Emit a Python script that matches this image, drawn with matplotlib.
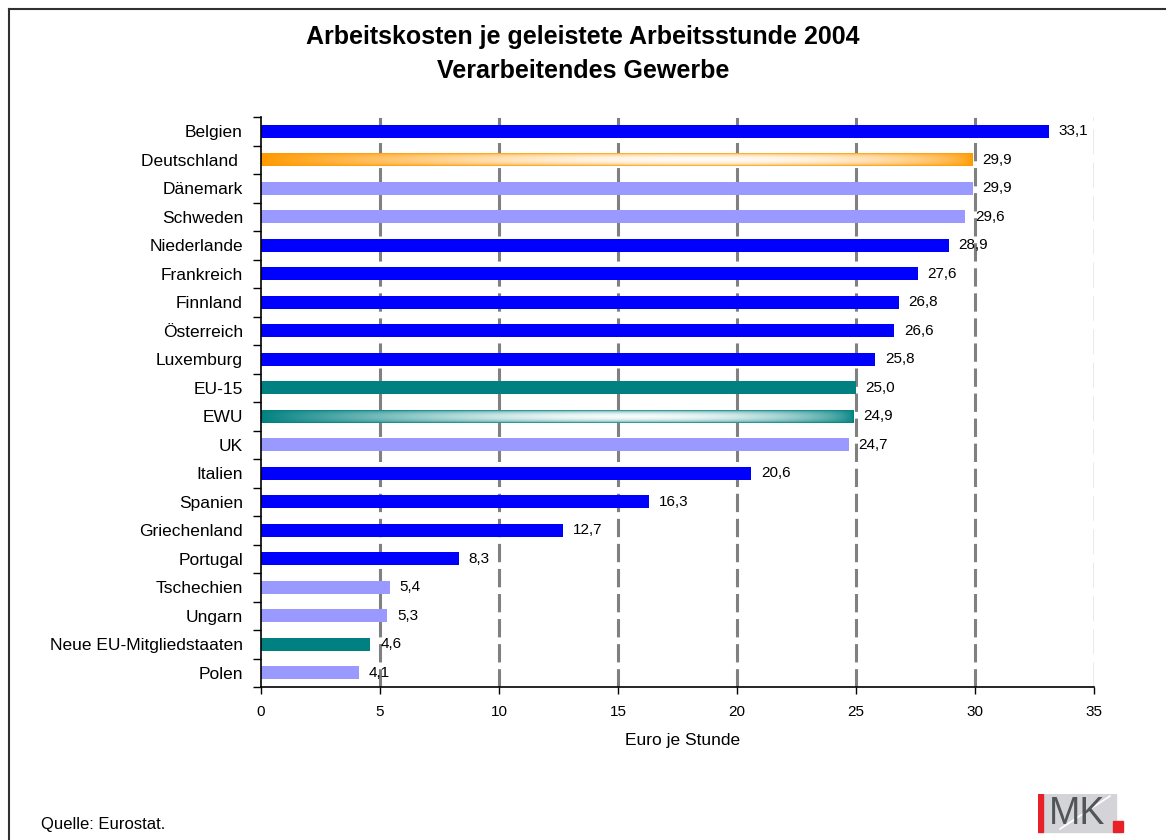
import numpy as np
import matplotlib.pyplot as plt
from matplotlib.patches import Rectangle
from matplotlib.lines import Line2D

plt.rcParams['font.family'] = ['Liberation Sans', 'DejaVu Sans']

# Daten
laender = ['Belgien', 'Deutschland ', 'Dänemark', 'Schweden', 'Niederlande', 'Frankreich',
           'Finnland', 'Österreich', 'Luxemburg', 'EU-15', 'EWU', 'UK', 'Italien', 'Spanien',
           'Griechenland', 'Portugal', 'Tschechien', 'Ungarn', 'Neue EU-Mitgliedstaaten', 'Polen']
werte = [33.1, 29.9, 29.9, 29.6, 28.9, 27.6, 26.8, 26.6, 25.8, 25.0, 24.9, 24.7,
         20.6, 16.3, 12.7, 8.3, 5.4, 5.3, 4.6, 4.1]
gruppe = ['alt', 'de', 'nord', 'nord', 'alt', 'alt', 'alt', 'alt', 'alt', 'eu', 'ewu', 'nord',
          'alt', 'alt', 'alt', 'alt', 'nord', 'nord', 'eu', 'nord']
farben = {'alt': '#0000ff', 'nord': '#9999ff', 'eu': '#008080', 'de': '#ff9900', 'ewu': '#008080'}
x_ticks = [0, 5, 10, 15, 20, 25, 30, 35]

fig = plt.figure(figsize=(11.66, 8.4), dpi=100)
ax = fig.add_axes([261 / 1166, 1 - 687 / 840, 833 / 1166, 570 / 840])

n = len(laender)
hoehe = 0.44


def verlauf_balken(ax, wert, y, farbe):
    # horizontaler Farbverlauf: Farbe an den Enden, weiss in der Mitte
    basis = np.array(plt.matplotlib.colors.to_rgb(farbe))
    t = np.linspace(0, 1, 400)
    s = np.linspace(0, 1, 24)
    w = np.sin(np.pi * t ** 1.45) ** 0.6
    v = np.clip(np.sin(np.pi * s), 0, 1) ** 0.4
    a = 0.97 * np.outer(v, w)[..., None]
    img = basis * (1 - a) + a
    ax.imshow(img, extent=(0, wert, y + hoehe / 2, y - hoehe / 2), aspect='auto',
              interpolation='bilinear', zorder=2)


for i, (land, wert, g) in enumerate(zip(laender, werte, gruppe)):
    if g in ('de', 'ewu'):
        verlauf_balken(ax, wert, i, farben[g])
    else:
        ax.barh(i, wert, height=hoehe, color=farben[g], zorder=2)
    ax.annotate(f'{wert:.1f}'.replace('.', ','), (wert, i), xytext=(7, 0),
                textcoords='offset points', va='center', ha='left', fontsize=11, zorder=4)

# Gitternetz
for xv in x_ticks[1:-1]:
    ax.axvline(xv, color='#808080', lw=2.2, dashes=(6, 2.2), zorder=1)
ax.axvline(35, color='#909090', lw=1.0, dashes=(18, 6), zorder=1)

ax.set_xlim(0, 35)
ax.set_ylim(n - 0.5, -0.5)
ax.set_xticks(x_ticks)
ax.set_xticklabels([str(x) for x in x_ticks], fontsize=11)
ax.set_yticks(range(n))
ax.set_yticklabels(laender, fontsize=12.5)
ax.set_yticks(np.arange(-0.5, n, 1), minor=True)
ax.tick_params(axis='y', which='major', length=0, pad=13)
ax.tick_params(axis='y', which='minor', length=6, direction='out', width=1)
ax.tick_params(axis='x', length=5, direction='out', width=1, pad=8)
for sp in ['top', 'right']:
    ax.spines[sp].set_visible(False)
ax.spines['left'].set_linewidth(1.2)
ax.spines['bottom'].set_linewidth(1.2)

# Titel und Beschriftung
fig.text(0.5, 1 - 37 / 840, 'Arbeitskosten je geleistete Arbeitsstunde 2004',
         ha='center', va='center', fontsize=18, fontweight='bold')
fig.text(0.5, 1 - 71 / 840, 'Verarbeitendes Gewerbe',
         ha='center', va='center', fontsize=18, fontweight='bold')
fig.text(683 / 1166, 1 - 741 / 840, 'Euro je Stunde', ha='center', va='center', fontsize=12.5)
fig.text(41 / 1166, 1 - 824 / 840, 'Quelle: Eurostat.', ha='left', va='center', fontsize=12)

# Rahmen
fig.add_artist(Line2D([9 / 1166, 1], [1 - 9 / 840, 1 - 9 / 840], transform=fig.transFigure,
                      color='#303030', lw=1.5))
fig.add_artist(Line2D([9 / 1166, 9 / 1166], [0, 1 - 9 / 840], transform=fig.transFigure,
                      color='#303030', lw=1.5))

# IMK Logo
logo = fig.add_axes([1038 / 1166, 0, 90 / 1166, 46 / 840])
logo.set_xlim(1038, 1128)
logo.set_ylim(841, 795)
logo.axis('off')
logo.add_patch(Rectangle((1038, 795), 78, 38, color='#d4d4d8'))
logo.plot([1060, 1110], [830, 797], color='white', lw=1.2)
logo.add_patch(Rectangle((1038, 795), 5, 38, color='#e8202a'))
logo.add_patch(Rectangle((1113, 822), 10, 11, color='#e8202a'))
logo.text(1077, 815, 'MK', ha='center', va='center', fontsize=27, color='#505558')

plt.savefig('out.png', dpi=100)
